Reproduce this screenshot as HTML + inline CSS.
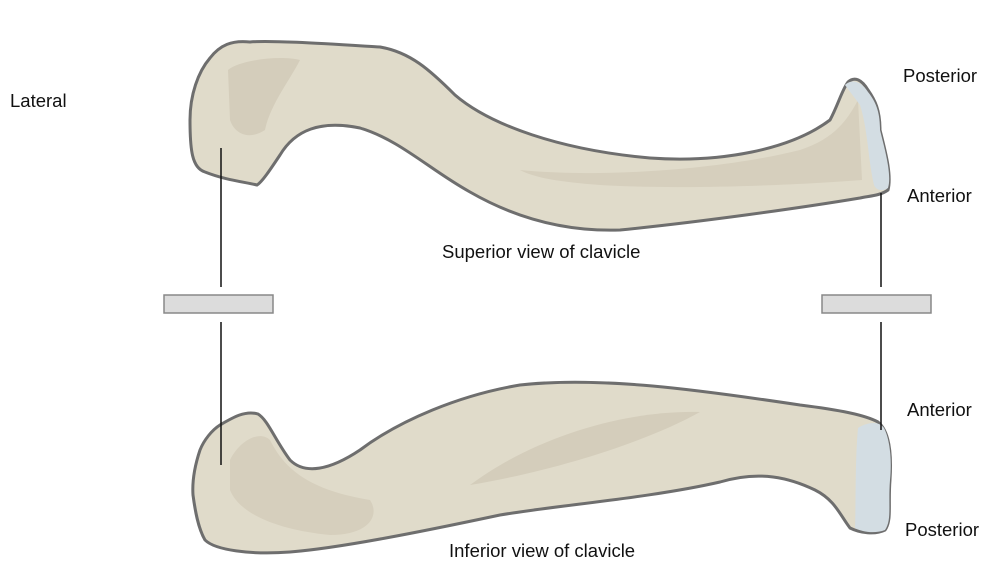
<!DOCTYPE html>
<html><head><meta charset="utf-8"><style>
html,body{margin:0;padding:0;background:#fff;}
svg{display:block;}
text{font-family:"Liberation Sans",sans-serif;font-size:18.5px;fill:#111;}
</style></head><body>
<svg width="984" height="580" viewBox="0 0 984 580" xmlns="http://www.w3.org/2000/svg">
<!-- top bone -->
<path d="M257,185 C245,182 225,180 205,172 C192,168 190,150 190,120 C190,95 198,72 210,58 C220,45 232,40 250,42 C270,40 330,44 380,47 C410,52 430,70 455,95 C490,125 560,150 650,158 C720,163 790,150 830,120 C838,105 842,90 848,82 C855,76 862,80 868,90 C875,100 880,110 880,130 C885,150 892,175 888,190 C880,196 868,196 860,198 C800,208 700,222 620,230 C560,232 510,215 470,192 C430,170 400,140 360,128 C320,120 295,130 280,155 C270,170 262,182 257,185 Z" fill="#e0dbca" stroke="#6e6e6e" stroke-width="3"/>
<path d="M228,70 C240,60 280,55 300,60 C290,80 270,105 265,130 C250,140 235,135 230,120 Z" fill="#d4cdbb"/>
<path d="M520,170 C600,178 720,170 800,150 C830,140 845,125 858,100 L862,180 C800,185 680,190 600,185 C560,182 535,178 520,170 Z" fill="#d6cfbd"/>
<path d="M845,85 C852,78 862,82 868,92 C876,102 880,112 880,130 C885,150 892,175 888,188 C882,192 876,190 874,185 C868,160 868,130 860,105 Z" fill="#d3dde3"/>
<!-- bottom bone -->
<path d="M220,425 C232,418 245,410 258,414 C268,420 275,440 290,460 C305,475 330,470 360,450 C400,420 460,395 520,385 C600,376 700,390 800,405 C840,410 865,415 878,422 C888,430 892,450 890,480 C888,505 892,520 885,530 C875,535 860,533 850,528 C840,515 835,500 815,490 C790,478 760,470 720,482 C650,498 560,505 500,515 C420,532 340,548 290,552 C250,555 215,550 205,540 C198,528 195,510 193,495 C192,480 195,465 200,450 C204,440 212,430 220,425 Z" fill="#e0dbca" stroke="#6e6e6e" stroke-width="3"/>
<path d="M230,460 C240,440 260,430 270,440 C285,470 310,490 370,500 C380,515 370,535 330,535 C280,530 240,515 230,490 Z" fill="#d6cfbd"/>
<path d="M470,485 C530,440 620,410 700,412 C650,440 560,470 470,485 Z" fill="#d4cdbb"/>
<path d="M858,428 C866,423 878,420 884,428 C890,440 892,460 890,480 C888,505 892,520 885,530 C875,534 862,532 855,528 C856,500 855,460 858,428 Z" fill="#d3dde3"/>
<!-- connector lines -->
<g stroke="#111" stroke-width="1.5">
<line x1="221" y1="148" x2="221" y2="287"/>
<line x1="221" y1="322" x2="221" y2="465"/>
<line x1="881" y1="193" x2="881" y2="287"/>
<line x1="881" y1="322" x2="881" y2="430"/>
</g>
<rect x="164" y="295" width="109" height="18" fill="#dcdcdc" stroke="#888" stroke-width="1.5"/>
<rect x="822" y="295" width="109" height="18" fill="#dcdcdc" stroke="#888" stroke-width="1.5"/>
<text x="10" y="107">Lateral</text>
<text x="903" y="82">Posterior</text>
<text x="907" y="202">Anterior</text>
<text x="442" y="258">Superior view of clavicle</text>
<text x="907" y="416">Anterior</text>
<text x="905" y="536">Posterior</text>
<text x="449" y="557">Inferior view of clavicle</text>
</svg>
</body></html>
